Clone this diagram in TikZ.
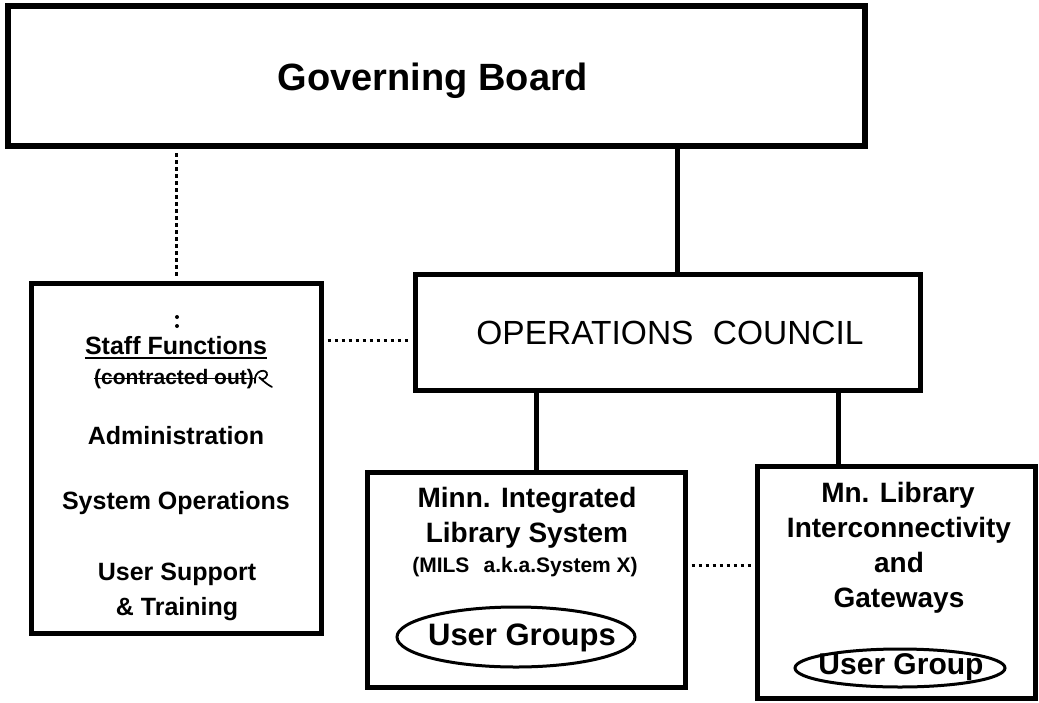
\documentclass[tikz,border=0pt]{standalone}
\usepackage{fontspec}
\setmainfont{Liberation Sans}
\usetikzlibrary{shapes.geometric}
\begin{document}
\begin{tikzpicture}[x=1pt,y=-1pt,
  box/.style={draw,line width=5pt,inner sep=0pt,rectangle},
  btxt/.style={inner sep=0pt,anchor=base,font=\bfseries\fontsize{#1}{#1}\selectfont},
  rtxt/.style={inner sep=0pt,anchor=base,font=\fontsize{#1}{#1}\selectfont},
  ovaltxt/.style={inner sep=0pt,font=\bfseries\fontsize{#1}{#1}\selectfont},
  oval/.style={line width=3pt},
  conn/.style={line width=5pt},
  dotconn/.style={line width=3pt,dash pattern=on 3.5pt off 3.5pt}
]
\fill[white] (0,0) rectangle (1039,702);
\useasboundingbox (0,0) rectangle (1039,702);

% boxes
\node[box,line width=6pt,minimum width=857pt,minimum height=140pt] (gb) at (436.5,76) {};
\node[btxt=38] (gbt) at (433,90) {Governing Board};

\node[box,minimum width=290pt,minimum height=350pt] (staff) at (176,458) {};
\node[box,minimum width=505pt,minimum height=116pt] (ops) at (667.5,332) {};
\node[rtxt=33.5] (opst) at (670,344) {OPERATIONS\hspace{0.3em} COUNCIL};
\node[box,minimum width=318pt,minimum height=215pt] (mils) at (526,579.5) {};
\node[box,minimum width=278pt,minimum height=232pt] (lib) at (896,582) {};

% staff texts
\fill (177,317) circle (2pt) (177,326) circle (2pt);
\node[btxt=25] (sf) at (176,354) {Staff Functions};
\draw[line width=2.5pt] ([yshift=-4pt]sf.base west) -- ([yshift=-4pt]sf.base east);
\node[btxt=21] (co) at (174,384) {(contracted out)};
\draw[line width=1.6pt] ([yshift=5.5pt]co.base west) -- ([yshift=5.5pt]co.base east);
\draw[line width=1.7pt,line cap=round] (255,383) .. controls (253,369) and (268,368) .. (267,375)
  .. controls (266,380) and (260,380) .. (259,377) .. controls (263,381) and (268,385) .. (272,387);
\node[btxt=25] (adm) at (176,444) {Administration};
\node[btxt=25] (sysop) at (176,509) {System Operations};
\node[btxt=25] (us) at (177,580) {User Support};
\node[btxt=25] (tr) at (177,615) {\& Training};

% MILS texts
\node[btxt=28] (m1) at (527,507) {Minn. Integrated};
\node[btxt=28] (m2) at (527,542) {Library System};
\node[btxt=21] (m3) at (525,572) {(MILS\hspace{0.4em} a.k.a.System X)};
\node[ovaltxt=31] (ug1) at (522,638) {User Groups};
\draw[oval] (516,637) ellipse [x radius=119pt, y radius=30pt];

% right box texts
\node[btxt=28] (r1) at (898,502) {Mn. Library};
\node[btxt=28] (r2) at (899,537) {Interconnectivity};
\node[btxt=28] (r3) at (899,572) {and};
\node[btxt=28] (r4) at (899,607) {Gateways};
\node[ovaltxt=30] (ug2) at (901,667) {User Group};
\draw[oval] (900,668) ellipse [x radius=105pt, y radius=19pt];

% connectors
\coordinate (c1) at ([xshift=9.5pt]ops.north);
\draw[conn] (c1 |- gb.south) -- (c1);
\draw[dotconn] ([yshift=-4pt]gb.south -| staff.north) -- ([yshift=4pt]staff.north);
\coordinate (c2) at ([yshift=-8pt]ops.west);
\draw[dotconn] ([xshift=4pt]c2 -| staff.east) -- ([xshift=-3pt]c2);
\coordinate (c3) at ([xshift=10pt]mils.north);
\draw[conn] (c3 |- ops.south) -- (c3);
\coordinate (c4) at ([xshift=-58pt]lib.north);
\draw[conn] (c4 |- ops.south) -- (c4);
\coordinate (c5) at ([yshift=14.5pt]mils.east);
\draw[dotconn] ([xshift=4pt]c5) -- ([xshift=-3pt]c5 -| lib.west);
\end{tikzpicture}
\end{document}
